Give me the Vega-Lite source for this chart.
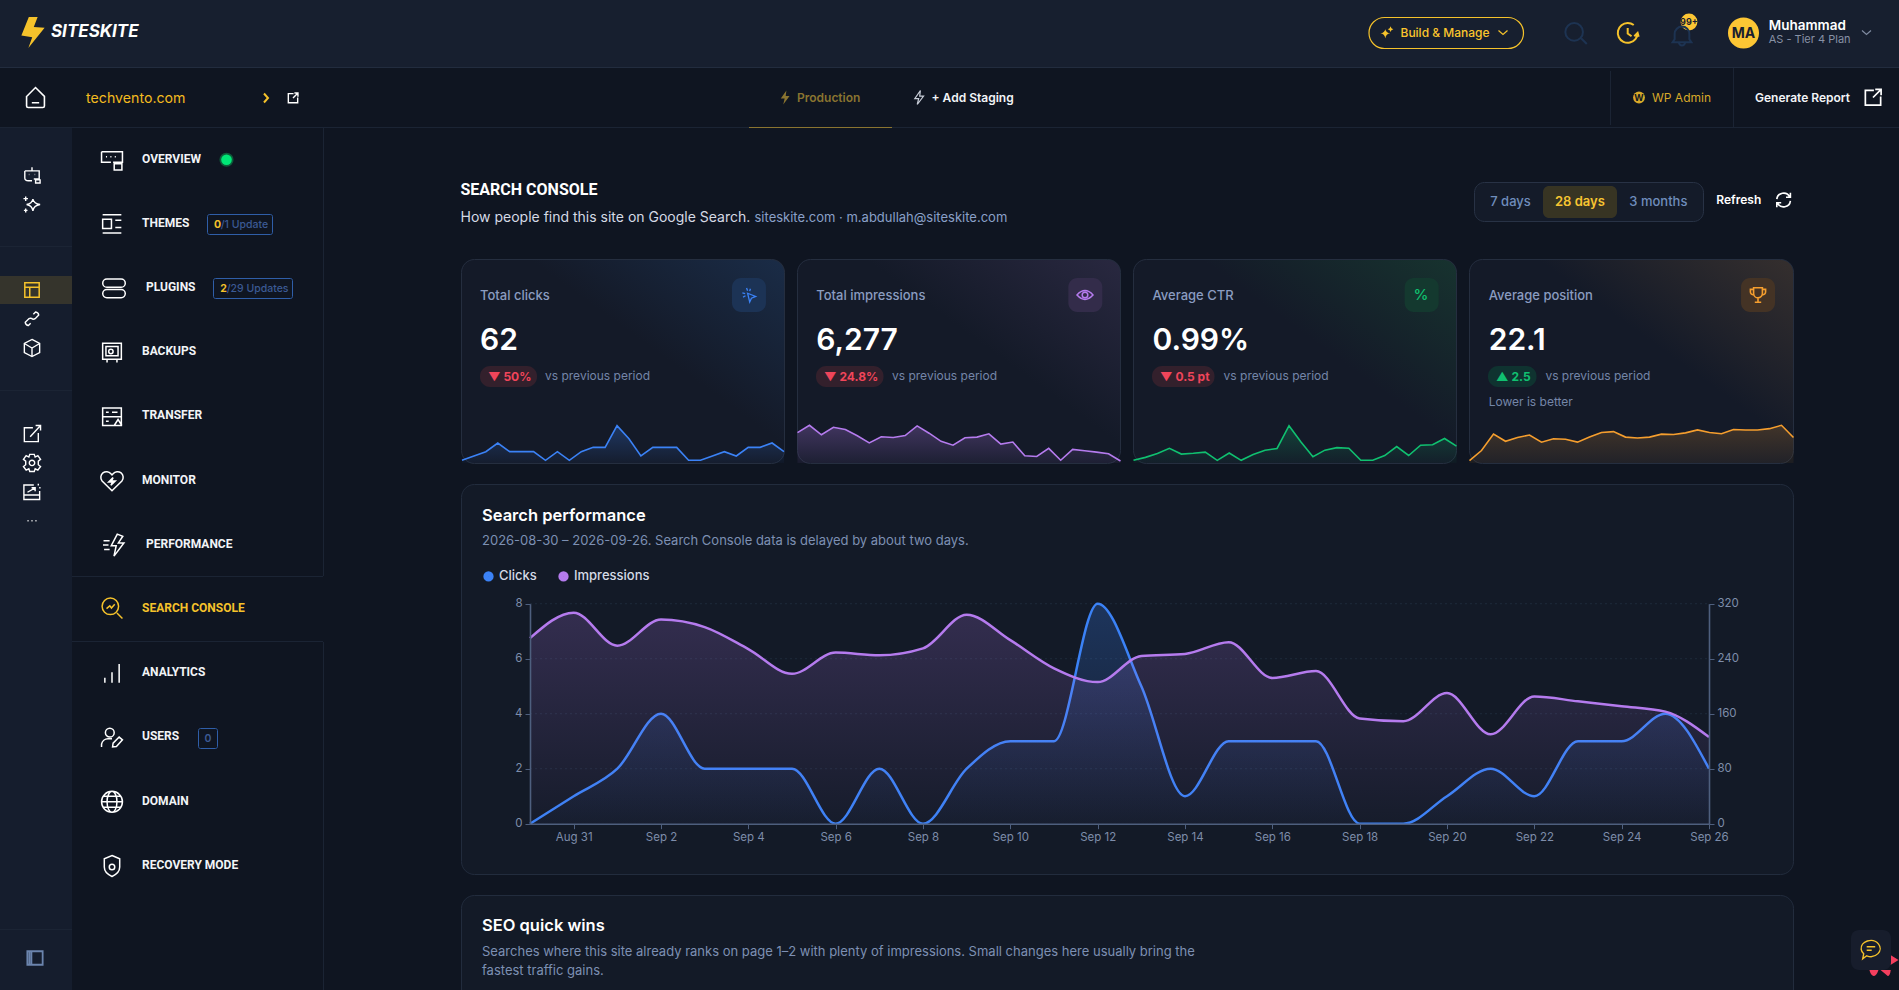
{"$schema":"https://vega.github.io/schema/vega-lite/v6.json","width":1899,"height":990,"autosize":"none","padding":0,"background":"#0f1521","config":{"view":{"stroke":null},"font":"Inter","scale":{"pointPadding":0},"text":{"font":"Inter","align":"left","baseline":"middle"},"axis":{"grid":false,"title":null,"domainColor":"#4e5f7e","domainWidth":1.6,"tickColor":"#4e5f7e","tickSize":5,"labelColor":"#7e8daa","labelFont":"Inter","labelFontSize":11.5,"labelOverlap":false,"labelBound":false,"labelFlush":false}},"resolve":{"scale":{"x":"independent","y":"independent","shape":"independent"},"axis":{"x":"independent","y":"independent"}},"datasets":{"daily":[
{"date":"2026-08-30","clicks":0,"impressions":270,"ctr":0,"position":16.3},
{"date":"2026-08-31","clicks":1,"impressions":307,"ctr":0.33,"position":18.7},
{"date":"2026-09-01","clicks":2,"impressions":259,"ctr":0.77,"position":22.6},
{"date":"2026-09-02","clicks":4,"impressions":297,"ctr":1.35,"position":20.9},
{"date":"2026-09-03","clicks":2,"impressions":286,"ctr":0.7,"position":21.8},
{"date":"2026-09-04","clicks":2,"impressions":254,"ctr":0.79,"position":22.4},
{"date":"2026-09-05","clicks":2,"impressions":218,"ctr":0.92,"position":20.7},
{"date":"2026-09-06","clicks":0,"impressions":249,"ctr":0,"position":21.5},
{"date":"2026-09-07","clicks":2,"impressions":245,"ctr":0.82,"position":21.4},
{"date":"2026-09-08","clicks":0,"impressions":255,"ctr":0,"position":20.7},
{"date":"2026-09-09","clicks":2,"impressions":304,"ctr":0.66,"position":21.9},
{"date":"2026-09-10","clicks":3,"impressions":267,"ctr":1.12,"position":23.0},
{"date":"2026-09-11","clicks":3,"impressions":226,"ctr":1.33,"position":23.2},
{"date":"2026-09-12","clicks":8,"impressions":206,"ctr":3.88,"position":21.9},
{"date":"2026-09-13","clicks":5,"impressions":244,"ctr":2.05,"position":21.7},
{"date":"2026-09-14","clicks":1,"impressions":247,"ctr":0.4,"position":21.9},
{"date":"2026-09-15","clicks":3,"impressions":264,"ctr":1.14,"position":22.6},
{"date":"2026-09-16","clicks":3,"impressions":212,"ctr":1.42,"position":22.5},
{"date":"2026-09-17","clicks":3,"impressions":222,"ctr":1.35,"position":22.9},
{"date":"2026-09-18","clicks":0,"impressions":153,"ctr":0,"position":23.6},
{"date":"2026-09-19","clicks":0,"impressions":149,"ctr":0,"position":23.0},
{"date":"2026-09-20","clicks":1,"impressions":190,"ctr":0.53,"position":22.7},
{"date":"2026-09-21","clicks":2,"impressions":130,"ctr":1.54,"position":23.7},
{"date":"2026-09-22","clicks":1,"impressions":185,"ctr":0.54,"position":23.6},
{"date":"2026-09-23","clicks":3,"impressions":178,"ctr":1.69,"position":23.6},
{"date":"2026-09-24","clicks":3,"impressions":171,"ctr":1.75,"position":23.9},
{"date":"2026-09-25","clicks":4,"impressions":163,"ctr":2.45,"position":24.7},
{"date":"2026-09-26","clicks":2,"impressions":126,"ctr":1.59,"position":21.8}
]},"layer":[
{"data":{"values":[{"p":"header"}]},"mark":{"type":"rect","color":"#171f2f"},"encoding":{"x":{"datum":0,"axis":null,"scale":{"domain":[0,1],"range":[0,1899]}},"x2":{"datum":1},"y":{"datum":0,"axis":null,"scale":{"domain":[0,1],"range":[0,67]}},"y2":{"datum":1}}},
{"data":{"values":[{"p":"rail"}]},"mark":{"type":"rect","color":"#151d2d"},"encoding":{"x":{"datum":0,"axis":null,"scale":{"domain":[0,1],"range":[0,72]}},"x2":{"datum":1},"y":{"datum":0,"axis":null,"scale":{"domain":[0,1],"range":[127,990]}},"y2":{"datum":1}}},
{"data":{"values":[{"p":"rail selected"}]},"mark":{"type":"rect","color":"#35342c"},"encoding":{"x":{"datum":0,"axis":null,"scale":{"domain":[0,1],"range":[0,72]}},"x2":{"datum":1},"y":{"datum":0,"axis":null,"scale":{"domain":[0,1],"range":[276,304]}},"y2":{"datum":1}}},
{"data":{"values":[{"p":"header line"}]},"mark":{"type":"rule","color":"#222c3e"},"encoding":{"x":{"datum":0,"axis":null,"scale":{"domain":[0,1],"range":[0,1899]}},"x2":{"datum":1},"y":{"field":"p","type":"nominal","axis":null,"scale":{"type":"point","range":[67.5,67.5]}}}},
{"data":{"values":[{"p":"bar line"}]},"mark":{"type":"rule","color":"#1b2434"},"encoding":{"x":{"datum":0,"axis":null,"scale":{"domain":[0,1],"range":[0,1899]}},"x2":{"datum":1},"y":{"field":"p","type":"nominal","axis":null,"scale":{"type":"point","range":[127.5,127.5]}}}},
{"data":{"values":[{"p":"tab"}]},"mark":{"type":"rule","color":"#8a7430","strokeWidth":1.2},"encoding":{"x":{"datum":0,"axis":null,"scale":{"domain":[0,1],"range":[749,892]}},"x2":{"datum":1},"y":{"field":"p","type":"nominal","axis":null,"scale":{"type":"point","range":[127.5,127.5]}}}},
{"data":{"values":[{"p":"a"},{"p":"b"}]},"mark":{"type":"rule","color":"#1b2434"},"encoding":{"x":{"datum":0,"axis":null,"scale":{"domain":[0,1],"range":[72,323]}},"x2":{"datum":1},"y":{"field":"p","type":"nominal","axis":null,"sort":null,"scale":{"type":"point","padding":0,"range":[576.5,641.5]}}}},
{"data":{"values":[{"p":"a"},{"p":"b"}]},"mark":{"type":"rule","color":"#1b2434"},"encoding":{"x":{"datum":0,"axis":null,"scale":{"domain":[0,1],"range":[0,72]}},"x2":{"datum":1},"y":{"field":"p","type":"nominal","axis":null,"sort":null,"scale":{"type":"point","padding":0,"range":[246.5,390.5]}}}},
{"data":{"values":[{"p":"rail foot"}]},"mark":{"type":"rule","color":"#1b2434"},"encoding":{"x":{"datum":0,"axis":null,"scale":{"domain":[0,1],"range":[0,72]}},"x2":{"datum":1},"y":{"field":"p","type":"nominal","axis":null,"scale":{"type":"point","range":[929.5,929.5]}}}},
{"data":{"values":[{"p":"nav edge"}]},"mark":{"type":"rule","color":"#1b2434"},"encoding":{"x":{"field":"p","type":"nominal","axis":null,"scale":{"type":"point","range":[323.5,323.5]}},"y":{"datum":0,"axis":null,"scale":{"domain":[0,1],"range":[127,576]}},"y2":{"datum":1}}},
{"data":{"values":[{"p":"nav edge"}]},"mark":{"type":"rule","color":"#1b2434"},"encoding":{"x":{"field":"p","type":"nominal","axis":null,"scale":{"type":"point","range":[323.5,323.5]}},"y":{"datum":0,"axis":null,"scale":{"domain":[0,1],"range":[642,990]}},"y2":{"datum":1}}},
{"data":{"values":[{"p":"sep"}]},"mark":{"type":"rule","color":"#1b2434"},"encoding":{"x":{"field":"p","type":"nominal","axis":null,"scale":{"type":"point","range":[1610.5,1610.5]}},"y":{"datum":0,"axis":null,"scale":{"domain":[0,1],"range":[71,125]}},"y2":{"datum":1}}},
{"data":{"values":[{"p":"sep"}]},"mark":{"type":"rule","color":"#1b2434"},"encoding":{"x":{"field":"p","type":"nominal","axis":null,"scale":{"type":"point","range":[1733.5,1733.5]}},"y":{"datum":0,"axis":null,"scale":{"domain":[0,1],"range":[68,127]}},"y2":{"datum":1}}},

{"data":{"values":[{"p":"card clicks"}]},"mark":{"type":"rect","cornerRadius":13,"stroke":"#252e3f","strokeWidth":1,"fill":{"gradient":"linear","x1":1,"y1":0,"x2":0.25,"y2":0.65,"stops":[{"offset":0,"color":"#1a2c47"},{"offset":0.6,"color":"#141a28"},{"offset":1,"color":"#141a28"}]}},"encoding":{"x":{"datum":0,"axis":null,"scale":{"domain":[0,1],"range":[461.5,784.5]}},"x2":{"datum":1},"y":{"datum":0,"axis":null,"scale":{"domain":[0,1],"range":[259.5,463.5]}},"y2":{"datum":1}}},
{"data":{"values":[{"p":"card impressions"}]},"mark":{"type":"rect","cornerRadius":13,"stroke":"#252e3f","strokeWidth":1,"fill":{"gradient":"linear","x1":1,"y1":0,"x2":0.25,"y2":0.65,"stops":[{"offset":0,"color":"#292840"},{"offset":0.6,"color":"#141a28"},{"offset":1,"color":"#141a28"}]}},"encoding":{"x":{"datum":0,"axis":null,"scale":{"domain":[0,1],"range":[797.5,1120.5]}},"x2":{"datum":1},"y":{"datum":0,"axis":null,"scale":{"domain":[0,1],"range":[259.5,463.5]}},"y2":{"datum":1}}},
{"data":{"values":[{"p":"card ctr"}]},"mark":{"type":"rect","cornerRadius":13,"stroke":"#252e3f","strokeWidth":1,"fill":{"gradient":"linear","x1":1,"y1":0,"x2":0.25,"y2":0.65,"stops":[{"offset":0,"color":"#17332f"},{"offset":0.6,"color":"#141a28"},{"offset":1,"color":"#141a28"}]}},"encoding":{"x":{"datum":0,"axis":null,"scale":{"domain":[0,1],"range":[1133.5,1456.5]}},"x2":{"datum":1},"y":{"datum":0,"axis":null,"scale":{"domain":[0,1],"range":[259.5,463.5]}},"y2":{"datum":1}}},
{"data":{"values":[{"p":"card position"}]},"mark":{"type":"rect","cornerRadius":13,"stroke":"#252e3f","strokeWidth":1,"fill":{"gradient":"linear","x1":1,"y1":0,"x2":0.25,"y2":0.65,"stops":[{"offset":0,"color":"#352f2e"},{"offset":0.6,"color":"#141a28"},{"offset":1,"color":"#141a28"}]}},"encoding":{"x":{"datum":0,"axis":null,"scale":{"domain":[0,1],"range":[1469.5,1793.5]}},"x2":{"datum":1},"y":{"datum":0,"axis":null,"scale":{"domain":[0,1],"range":[259.5,463.5]}},"y2":{"datum":1}}},
{"data":{"values":[{"p":"card main"}]},"mark":{"type":"rect","cornerRadius":13,"stroke":"#222c3d","strokeWidth":1,"color":"#131a27"},"encoding":{"x":{"datum":0,"axis":null,"scale":{"domain":[0,1],"range":[461.5,1793.5]}},"x2":{"datum":1},"y":{"datum":0,"axis":null,"scale":{"domain":[0,1],"range":[484.5,874.5]}},"y2":{"datum":1}}},
{"data":{"values":[{"p":"card seo"}]},"mark":{"type":"rect","cornerRadius":13,"stroke":"#222c3d","strokeWidth":1,"color":"#131a27","clip":true},"encoding":{"x":{"datum":0,"axis":null,"scale":{"domain":[0,1],"range":[461.5,1793.5]}},"x2":{"datum":1},"y":{"datum":0,"axis":null,"scale":{"domain":[0,1],"range":[895.5,1050]}},"y2":{"datum":1}}},

{"data":{"name":"daily"},"encoding":{"x":{"field":"date","type":"temporal","axis":null,"scale":{"type":"utc","nice":false,"range":[462,784]}},"y":{"field":"clicks","type":"quantitative","axis":null,"scale":{"domain":[-0.62,8],"nice":false,"zero":false,"range":[463,425.7]}}},"layer":[{"mark":{"type":"area","fill":{"gradient":"linear","x1":0,"y1":0,"x2":0,"y2":1,"stops":[{"offset":0,"color":"rgba(59,130,246,0.28)"},{"offset":1,"color":"rgba(59,130,246,0.03)"}]}},"encoding":{"y2":{"datum":-0.62}}},{"mark":{"type":"line","color":"#3b82f6","strokeWidth":1.6}}]},
{"data":{"name":"daily"},"encoding":{"x":{"field":"date","type":"temporal","axis":null,"scale":{"type":"utc","nice":false,"range":[797.5,1120.5]}},"y":{"field":"impressions","type":"quantitative","axis":null,"scale":{"domain":[116,307],"nice":false,"zero":false,"range":[463,425.3]}}},"layer":[{"mark":{"type":"area","fill":{"gradient":"linear","x1":0,"y1":0,"x2":0,"y2":1,"stops":[{"offset":0,"color":"rgba(181,123,238,0.28)"},{"offset":1,"color":"rgba(181,123,238,0.06)"}]}},"encoding":{"y2":{"datum":116}}},{"mark":{"type":"line","color":"#b57bee","strokeWidth":1.6}}]},
{"data":{"name":"daily"},"encoding":{"x":{"field":"date","type":"temporal","axis":null,"scale":{"type":"utc","nice":false,"range":[1133.5,1456.5]}},"y":{"field":"ctr","type":"quantitative","axis":null,"scale":{"domain":[-0.3,3.88],"nice":false,"zero":false,"range":[463,425.7]}}},"layer":[{"mark":{"type":"area","fill":{"gradient":"linear","x1":0,"y1":0,"x2":0,"y2":1,"stops":[{"offset":0,"color":"rgba(16,192,112,0.25)"},{"offset":1,"color":"rgba(16,192,112,0.03)"}]}},"encoding":{"y2":{"datum":-0.3}}},{"mark":{"type":"line","color":"#10c070","strokeWidth":1.6}}]},
{"data":{"name":"daily"},"encoding":{"x":{"field":"date","type":"temporal","axis":null,"scale":{"type":"utc","nice":false,"range":[1469.5,1793.5]}},"y":{"field":"position","type":"quantitative","axis":null,"scale":{"domain":[15.75,24.7],"nice":false,"zero":false,"range":[463,425.3]}}},"layer":[{"mark":{"type":"area","fill":{"gradient":"linear","x1":0,"y1":0,"x2":0,"y2":1,"stops":[{"offset":0,"color":"rgba(245,158,46,0.2)"},{"offset":1,"color":"rgba(245,158,46,0.06)"}]}},"encoding":{"y2":{"datum":15.75}}},{"mark":{"type":"line","color":"#f59e2e","strokeWidth":1.6}}]},

{"data":{"values":[{"v":2},{"v":4},{"v":6},{"v":8}]},"mark":{"type":"rule","color":"#1e2b3a","strokeDash":[2,3]},"encoding":{"x":{"datum":0,"axis":null,"scale":{"domain":[0,1],"range":[530,1709]}},"x2":{"datum":1},"y":{"field":"v","type":"quantitative","axis":null,"scale":{"domain":[0,8],"nice":false,"range":[823.7,603.7]}}}},
{"data":{"name":"daily"},"encoding":{"x":{"field":"date","type":"temporal","scale":{"type":"utc","nice":false,"range":[530,1709]},"axis":{"orient":"bottom","offset":-166.3,"zindex":1,"format":"%b %-d","labelPadding":3,"values":["2026-08-31","2026-09-02","2026-09-04","2026-09-06","2026-09-08","2026-09-10","2026-09-12","2026-09-14","2026-09-16","2026-09-18","2026-09-20","2026-09-22","2026-09-24","2026-09-26"]}},"y":{"field":"clicks","type":"quantitative","scale":{"domain":[0,8],"nice":false,"range":[823.7,603.7]},"axis":{"orient":"left","offset":-530,"zindex":1,"values":[0,2,4,6,8],"labelPadding":3}}},"layer":[{"mark":{"type":"area","interpolate":"monotone","fill":{"gradient":"linear","x1":0,"y1":0,"x2":0,"y2":1,"stops":[{"offset":0,"color":"rgba(59,130,246,0.26)"},{"offset":1,"color":"rgba(59,130,246,0.02)"}]}}},{"mark":{"type":"line","interpolate":"monotone","strokeWidth":2.5},"encoding":{"color":{"datum":"Clicks","type":"nominal","scale":{"domain":["Clicks","Impressions"],"range":["#3b82f6","#b57bee"]},"legend":{"orient":"none","legendX":482,"legendY":569.5,"direction":"horizontal","title":null,"symbolType":"circle","symbolSize":28,"symbolStrokeWidth":5,"labelColor":"#d5dbe6","labelFont":"Inter","labelFontSize":13,"labelFontWeight":500,"columnPadding":13,"zindex":1}}}}]},
{"data":{"name":"daily"},"encoding":{"x":{"field":"date","type":"temporal","axis":null,"scale":{"type":"utc","nice":false,"range":[530,1709]}},"y":{"field":"impressions","type":"quantitative","scale":{"domain":[0,320],"nice":false,"range":[823.7,603.7]},"axis":{"orient":"right","offset":-190,"zindex":1,"values":[0,80,160,240,320],"labelPadding":3}}},"layer":[{"mark":{"type":"area","interpolate":"monotone","fill":{"gradient":"linear","x1":0,"y1":0,"x2":0,"y2":1,"stops":[{"offset":0,"color":"rgba(181,123,238,0.2)"},{"offset":1,"color":"rgba(181,123,238,0.02)"}]}}},{"mark":{"type":"line","interpolate":"monotone","strokeWidth":2.5},"encoding":{"color":{"datum":"Impressions","type":"nominal"}}}]},

{"data":{"values":[{"p":"pill"}]},"mark":{"type":"rect","cornerRadius":15.5,"stroke":"#f5c22b","strokeWidth":1.2,"fill":"#171f2f"},"encoding":{"x":{"datum":0,"axis":null,"scale":{"domain":[0,1],"range":[1369,1523.5]}},"x2":{"datum":1},"y":{"datum":0,"axis":null,"scale":{"domain":[0,1],"range":[17.5,48.5]}},"y2":{"datum":1}}},
{"data":{"values":[{"p":"range"}]},"mark":{"type":"rect","cornerRadius":10,"stroke":"#283245","fill":"#141b29"},"encoding":{"x":{"datum":0,"axis":null,"scale":{"domain":[0,1],"range":[1474.5,1703.5]}},"x2":{"datum":1},"y":{"datum":0,"axis":null,"scale":{"domain":[0,1],"range":[182.5,221.5]}},"y2":{"datum":1}}},
{"data":{"values":[{"p":"range on"}]},"mark":{"type":"rect","cornerRadius":6,"color":"#373423"},"encoding":{"x":{"datum":0,"axis":null,"scale":{"domain":[0,1],"range":[1543,1617]}},"x2":{"datum":1},"y":{"datum":0,"axis":null,"scale":{"domain":[0,1],"range":[186,218]}},"y2":{"datum":1}}},
{"data":{"values":[{"p":"a"}]},"mark":{"type":"rect","cornerRadius":10,"color":"#33202c"},"encoding":{"x":{"datum":0,"axis":null,"scale":{"domain":[0,1],"range":[480,537]}},"x2":{"datum":1},"y":{"datum":0,"axis":null,"scale":{"domain":[0,1],"range":[366,387]}},"y2":{"datum":1}}},
{"data":{"values":[{"p":"a"}]},"mark":{"type":"rect","cornerRadius":10,"color":"#33202c"},"encoding":{"x":{"datum":0,"axis":null,"scale":{"domain":[0,1],"range":[816,883.5]}},"x2":{"datum":1},"y":{"datum":0,"axis":null,"scale":{"domain":[0,1],"range":[366,387]}},"y2":{"datum":1}}},
{"data":{"values":[{"p":"a"}]},"mark":{"type":"rect","cornerRadius":10,"color":"#33202c"},"encoding":{"x":{"datum":0,"axis":null,"scale":{"domain":[0,1],"range":[1152,1214.5]}},"x2":{"datum":1},"y":{"datum":0,"axis":null,"scale":{"domain":[0,1],"range":[366,387]}},"y2":{"datum":1}}},
{"data":{"values":[{"p":"a"}]},"mark":{"type":"rect","cornerRadius":10,"color":"#0f3330"},"encoding":{"x":{"datum":0,"axis":null,"scale":{"domain":[0,1],"range":[1488,1536.5]}},"x2":{"datum":1},"y":{"datum":0,"axis":null,"scale":{"domain":[0,1],"range":[366,387]}},"y2":{"datum":1}}},
{"data":{"values":[{"c":"clicks"},{"c":"impressions"},{"c":"ctr"},{"c":"position"}]},"mark":{"type":"rect","cornerRadius":9},"encoding":{"x":{"field":"c","type":"nominal","axis":null,"sort":null,"scale":{"type":"band","range":[732,1775],"paddingInner":0.899,"paddingOuter":0}},"y":{"datum":0,"axis":null,"scale":{"domain":[0,1],"range":[278,312]}},"y2":{"datum":1},"fill":{"field":"c","type":"nominal","legend":null,"sort":null,"scale":{"range":["#1c3355","#332c4a","#14392f","#443325"]}}}},
{"data":{"values":[{"p":"a"}]},"mark":{"type":"rect","color":"rgba(0,0,0,0)","stroke":"#2f5ea8","cornerRadius":2},"encoding":{"x":{"datum":0,"axis":null,"scale":{"domain":[0,1],"range":[207.5,272.5]}},"x2":{"datum":1},"y":{"datum":0,"axis":null,"scale":{"domain":[0,1],"range":[214.5,234.5]}},"y2":{"datum":1}}},
{"data":{"values":[{"p":"a"}]},"mark":{"type":"rect","color":"rgba(0,0,0,0)","stroke":"#2f5ea8","cornerRadius":2},"encoding":{"x":{"datum":0,"axis":null,"scale":{"domain":[0,1],"range":[213.5,292.5]}},"x2":{"datum":1},"y":{"datum":0,"axis":null,"scale":{"domain":[0,1],"range":[278.5,298.5]}},"y2":{"datum":1}}},
{"data":{"values":[{"p":"a"}]},"mark":{"type":"rect","color":"rgba(0,0,0,0)","stroke":"#2f5ea8","cornerRadius":2},"encoding":{"x":{"datum":0,"axis":null,"scale":{"domain":[0,1],"range":[198.5,217.5]}},"x2":{"datum":1},"y":{"datum":0,"axis":null,"scale":{"domain":[0,1],"range":[728.5,748.5]}},"y2":{"datum":1}}},

{"data":{"values":[{"t":"chat"}]},"mark":{"type":"point","filled":true,"color":"#f43f5e","opacity":1,"size":900,"shape":"M 0.43 -0.73 L 0.97 -0.4 L 0.43 -0.07 Z M -0.97 0.27 H -0.37 Q -0.5 0.67 -0.7 0.67 Q -0.9 0.6 -0.97 0.27 Z M -0.23 0.27 H 0.45 Q 0.4 0.67 0.25 0.67 Z"},"encoding":{"x":{"field":"t","type":"nominal","axis":null,"scale":{"range":[1884,1884]}},"y":{"field":"t","type":"nominal","axis":null,"scale":{"range":[966,966]}}}},
{"data":{"values":[{"p":"chat"}]},"mark":{"type":"rect","cornerRadius":8,"color":"#171d2c"},"encoding":{"x":{"datum":0,"axis":null,"scale":{"domain":[0,1],"range":[1851,1891]}},"x2":{"datum":1},"y":{"datum":0,"axis":null,"scale":{"domain":[0,1],"range":[930,970]}},"y2":{"datum":1}}},

{"data":{"values":[{"i":"green halo"}]},"mark":{"type":"circle","color":"#0d5c3a","opacity":1,"size":200},"encoding":{"x":{"field":"i","type":"nominal","axis":null,"scale":{"range":[226.5,226.5]}},"y":{"field":"i","type":"nominal","axis":null,"scale":{"range":[159.7,159.7]}}}},
{"data":{"values":[{"i":"green dot"}]},"mark":{"type":"circle","color":"#00e676","opacity":1,"size":113},"encoding":{"x":{"field":"i","type":"nominal","axis":null,"scale":{"range":[226.5,226.5]}},"y":{"field":"i","type":"nominal","axis":null,"scale":{"range":[159.7,159.7]}}}},
{"data":{"values":[{"i":"bell badge"}]},"mark":{"type":"circle","color":"#fdc634","opacity":1,"size":283},"encoding":{"x":{"field":"i","type":"nominal","axis":null,"scale":{"range":[1689,1689]}},"y":{"field":"i","type":"nominal","axis":null,"scale":{"range":[22,22]}}}},
{"data":{"values":[{"i":"avatar"}]},"mark":{"type":"circle","color":"#fdc634","opacity":1,"size":962},"encoding":{"x":{"field":"i","type":"nominal","axis":null,"scale":{"range":[1743.5,1743.5]}},"y":{"field":"i","type":"nominal","axis":null,"scale":{"range":[33,33]}}}},
{"data":{"values":[{"i":"wp"}]},"mark":{"type":"circle","color":"#d8a929","opacity":1,"size":140},"encoding":{"x":{"field":"i","type":"nominal","axis":null,"scale":{"range":[1639,1639]}},"y":{"field":"i","type":"nominal","axis":null,"scale":{"range":[97.5,97.5]}}}},

{"data":{"values":[{"i":"logo"}]},"mark":{"type":"point","filled":true,"color":"#f5c22b","opacity":1,"size":961,"shape":"M -0.27 -1 L 0.3 -1 L 0.05 -0.35 L 0.75 -0.3 L -0.3 1 L -0.05 0.3 L -0.75 0.2 Z"},"encoding":{"x":{"field":"i","type":"nominal","axis":null,"scale":{"range":[33,33]}},"y":{"field":"i","type":"nominal","axis":null,"scale":{"range":[32.5,32.5]}}}},
{"data":{"values":[{"i":"home"}]},"mark":{"type":"point","filled":false,"color":"#ffffff","opacity":1,"strokeWidth":1.6,"size":441,"shape":"M -0.85 -0.1 L 0 -0.95 L 0.85 -0.1 V 0.8 Q 0.85 0.95 0.7 0.95 H -0.7 Q -0.85 0.95 -0.85 0.8 Z M -0.35 0.5 H 0.35"},"encoding":{"x":{"field":"i","type":"nominal","axis":null,"scale":{"range":[35.5,35.5]}},"y":{"field":"i","type":"nominal","axis":null,"scale":{"range":[97.5,97.5]}}}},
{"data":{"values":[{"i":"chev"}]},"mark":{"type":"point","filled":false,"color":"#f5c22b","opacity":1,"strokeWidth":2,"size":100,"shape":"M -0.4 -0.9 L 0.4 0 L -0.4 0.9"},"encoding":{"x":{"field":"i","type":"nominal","axis":null,"scale":{"range":[266,266]}},"y":{"field":"i","type":"nominal","axis":null,"scale":{"range":[98,98]}}}},
{"data":{"values":[{"i":"ext"}]},"mark":{"type":"point","filled":false,"color":"#ffffff","opacity":1,"strokeWidth":1.4,"size":121,"shape":"M 0.1 -0.8 H -0.85 V 0.85 H 0.85 V -0.1 M 0.25 -0.9 H 0.9 V -0.25 M 0.9 -0.9 L 0 0"},"encoding":{"x":{"field":"i","type":"nominal","axis":null,"scale":{"range":[293,293]}},"y":{"field":"i","type":"nominal","axis":null,"scale":{"range":[98,98]}}}},
{"data":{"values":[{"i":"report"}]},"mark":{"type":"point","filled":false,"color":"#ffffff","opacity":1,"strokeWidth":1.7,"size":324,"shape":"M 0.1 -0.8 H -0.85 V 0.85 H 0.85 V -0.1 M 0.25 -0.9 H 0.9 V -0.25 M 0.9 -0.9 L 0 0"},"encoding":{"x":{"field":"i","type":"nominal","axis":null,"scale":{"range":[1873,1873]}},"y":{"field":"i","type":"nominal","axis":null,"scale":{"range":[97.5,97.5]}}}},
{"data":{"values":[{"i":"spark"}]},"mark":{"type":"point","filled":true,"color":"#f5c22b","opacity":1,"size":196,"shape":"M -0.2 -0.55 Q -0.1 -0.05 0.5 0.05 Q -0.1 0.15 -0.2 0.75 Q -0.3 0.15 -0.9 0.05 Q -0.3 -0.05 -0.2 -0.55 Z M 0.55 -0.95 Q 0.6 -0.6 0.95 -0.55 Q 0.6 -0.5 0.55 -0.15 Q 0.5 -0.5 0.15 -0.55 Q 0.5 -0.6 0.55 -0.95 Z"},"encoding":{"x":{"field":"i","type":"nominal","axis":null,"scale":{"range":[1386.7,1386.7]}},"y":{"field":"i","type":"nominal","axis":null,"scale":{"range":[33,33]}}}},
{"data":{"values":[{"i":"down"}]},"mark":{"type":"point","filled":false,"color":"#f5c22b","opacity":1,"strokeWidth":1.2,"size":100,"shape":"M -0.9 -0.4 L 0 0.4 L 0.9 -0.4"},"encoding":{"x":{"field":"i","type":"nominal","axis":null,"scale":{"range":[1503,1503]}},"y":{"field":"i","type":"nominal","axis":null,"scale":{"range":[32.5,32.5]}}}},
{"data":{"values":[{"i":"down"}]},"mark":{"type":"point","filled":false,"color":"#7f8aa0","opacity":1,"strokeWidth":1.2,"size":100,"shape":"M -0.9 -0.4 L 0 0.4 L 0.9 -0.4"},"encoding":{"x":{"field":"i","type":"nominal","axis":null,"scale":{"range":[1866.5,1866.5]}},"y":{"field":"i","type":"nominal","axis":null,"scale":{"range":[32.5,32.5]}}}},
{"data":{"values":[{"i":"search"}]},"mark":{"type":"point","filled":false,"color":"#1d3352","opacity":1,"strokeWidth":2,"size":484,"shape":"M -0.95 -0.1 A 0.8 0.8 0 1 0 0.65 -0.1 A 0.8 0.8 0 1 0 -0.95 -0.1 Z M 0.5 0.5 L 1 1"},"encoding":{"x":{"field":"i","type":"nominal","axis":null,"scale":{"range":[1575.8,1575.8]}},"y":{"field":"i","type":"nominal","axis":null,"scale":{"range":[33,33]}}}},
{"data":{"values":[{"i":"clock"}]},"mark":{"type":"point","filled":false,"color":"#f5c22b","opacity":1,"strokeWidth":2,"size":484,"shape":"M 0.9 0 A 0.9 0.9 0 1 1 0.55 -0.72 M 0 -0.45 V 0.05 L 0.35 0.3 M 0.6 0.3 L 0.9 0 L 1 0.35"},"encoding":{"x":{"field":"i","type":"nominal","axis":null,"scale":{"range":[1627.7,1627.7]}},"y":{"field":"i","type":"nominal","axis":null,"scale":{"range":[33,33]}}}},
{"data":{"values":[{"i":"bell"}]},"mark":{"type":"point","filled":false,"color":"#1d3352","opacity":1,"strokeWidth":2,"size":441,"shape":"M -0.7 0.4 V -0.1 A 0.7 0.7 0 0 1 0.7 -0.1 V 0.4 L 0.9 0.7 H -0.9 L -0.7 0.4 Z M -0.3 0.7 A 0.3 0.3 0 0 0 0.3 0.7"},"encoding":{"x":{"field":"i","type":"nominal","axis":null,"scale":{"range":[1682,1682]}},"y":{"field":"i","type":"nominal","axis":null,"scale":{"range":[35,35]}}}},
{"data":{"values":[{"i":"prod"}]},"mark":{"type":"point","filled":true,"color":"#8a7430","opacity":1,"size":196,"shape":"M 0.2 -1 L -0.6 0.15 H -0.05 L -0.25 1 L 0.65 -0.2 H 0.1 Z"},"encoding":{"x":{"field":"i","type":"nominal","axis":null,"scale":{"range":[785,785]}},"y":{"field":"i","type":"nominal","axis":null,"scale":{"range":[97.5,97.5]}}}},
{"data":{"values":[{"i":"stag"}]},"mark":{"type":"point","filled":false,"color":"#c8cdd8","opacity":1,"strokeWidth":1.2,"size":196,"shape":"M 0.2 -1 L -0.6 0.15 H -0.05 L -0.25 1 L 0.65 -0.2 H 0.1 Z"},"encoding":{"x":{"field":"i","type":"nominal","axis":null,"scale":{"range":[919,919]}},"y":{"field":"i","type":"nominal","axis":null,"scale":{"range":[97.5,97.5]}}}},
{"data":{"values":[{"i":"refresh"}]},"mark":{"type":"point","filled":false,"color":"#ffffff","opacity":1,"strokeWidth":1.6,"size":256,"shape":"M -0.85 -0.1 A 0.85 0.85 0 0 1 0.75 -0.4 M 0.85 -0.9 V -0.35 H 0.3 M 0.85 0.1 A 0.85 0.85 0 0 1 -0.75 0.4 M -0.85 0.9 V 0.35 H -0.3"},"encoding":{"x":{"field":"i","type":"nominal","axis":null,"scale":{"range":[1783.6,1783.6]}},"y":{"field":"i","type":"nominal","axis":null,"scale":{"range":[200,200]}}}},
{"data":{"values":[{"i":"cursor"}]},"mark":{"type":"point","filled":false,"color":"#3b82f6","opacity":1,"strokeWidth":1.3,"size":196,"shape":"M -0.2 -0.25 L 0.95 0.2 L 0.35 0.45 L 0.1 1 Z M -0.35 -1 L -0.2 -0.6 M -0.95 -0.3 L -0.55 -0.2 M -0.85 0.3 L -0.5 0.1 M 0.2 -0.9 L 0.1 -0.55"},"encoding":{"x":{"field":"i","type":"nominal","axis":null,"scale":{"range":[749,749]}},"y":{"field":"i","type":"nominal","axis":null,"scale":{"range":[295,295]}}}},
{"data":{"values":[{"i":"eye"}]},"mark":{"type":"point","filled":false,"color":"#b57bee","opacity":1,"strokeWidth":1.5,"size":256,"shape":"M -1 0 Q 0 -1.1 1 0 Q 0 1.1 -1 0 Z M -0.35 0 A 0.35 0.35 0 1 0 0.35 0 A 0.35 0.35 0 1 0 -0.35 0 Z"},"encoding":{"x":{"field":"i","type":"nominal","axis":null,"scale":{"range":[1085,1085]}},"y":{"field":"i","type":"nominal","axis":null,"scale":{"range":[295,295]}}}},
{"data":{"values":[{"i":"trophy"}]},"mark":{"type":"point","filled":false,"color":"#f59e2e","opacity":1,"strokeWidth":1.6,"size":256,"shape":"M -0.55 -0.9 H 0.55 V -0.2 A 0.55 0.55 0 0 1 -0.55 -0.2 Z M -0.55 -0.7 H -0.95 V -0.4 Q -0.95 -0.05 -0.5 0 M 0.55 -0.7 H 0.95 V -0.4 Q 0.95 -0.05 0.5 0 M 0 0.35 V 0.8 M -0.4 0.9 H 0.4"},"encoding":{"x":{"field":"i","type":"nominal","axis":null,"scale":{"range":[1758,1758]}},"y":{"field":"i","type":"nominal","axis":null,"scale":{"range":[295,295]}}}},
{"data":{"values":[{"i":"chat"}]},"mark":{"type":"point","filled":false,"color":"#f5c22b","opacity":1,"strokeWidth":1.4,"size":400,"shape":"M -0.95 0 A 0.95 0.8 0 1 1 -0.4 0.65 L -0.8 0.95 L -0.7 0.45 A 0.95 0.8 0 0 1 -0.95 0 Z M -0.4 -0.25 H 0.45 M -0.4 0.1 H 0.1"},"encoding":{"x":{"field":"i","type":"nominal","axis":null,"scale":{"range":[1870.7,1870.7]}},"y":{"field":"i","type":"nominal","axis":null,"scale":{"range":[949.3,949.3]}}}},

{"data":{"values":[{"i":"bot"},{"i":"sparkle"}]},"mark":{"type":"point","filled":false,"color":"#ffffff","opacity":1,"strokeWidth":1.4,"size":324},"encoding":{"x":{"field":"i","type":"nominal","axis":null,"scale":{"range":[32,32]}},"y":{"field":"i","type":"nominal","axis":null,"sort":null,"scale":{"range":[174.5,204.5]}},"shape":{"field":"i","type":"nominal","legend":null,"scale":{"domain":["bot","sparkle"],"range":["M -0.8 -0.4 H 0.8 V 0.5 H 0.2 M -0.8 -0.4 V 0.4 Q -0.8 0.7 -0.4 0.7 H 0 M 0 -0.4 V -0.8 M -0.35 0 H -0.3 M 0.3 0 H 0.35 M 0.4 0.6 H 0.9 V 0.95 H 0.4 Z","M 0.1 -0.6 Q 0.2 -0.1 0.9 0 Q 0.2 0.1 0.1 0.7 Q 0 0.1 -0.6 0 Q 0 -0.1 0.1 -0.6 Z M -0.7 -0.9 V -0.4 M -0.95 -0.65 H -0.45 M -0.7 0.45 V 0.9 M -0.9 0.65 H -0.5"]}}}},
{"data":{"values":[{"i":"layout"}]},"mark":{"type":"point","filled":false,"color":"#f5c22b","opacity":1,"strokeWidth":1.5,"size":324,"shape":"M -0.8 -0.8 H 0.8 V 0.8 H -0.8 Z M -0.8 -0.3 H 0.8 M -0.25 -0.3 V 0.8"},"encoding":{"x":{"field":"i","type":"nominal","axis":null,"scale":{"range":[32,32]}},"y":{"field":"i","type":"nominal","axis":null,"scale":{"range":[290,290]}}}},
{"data":{"values":[{"i":"link"},{"i":"box"}]},"mark":{"type":"point","filled":false,"color":"#ffffff","opacity":1,"strokeWidth":1.4,"size":324},"encoding":{"x":{"field":"i","type":"nominal","axis":null,"scale":{"range":[32,32]}},"y":{"field":"i","type":"nominal","axis":null,"sort":null,"scale":{"range":[318.7,348]}},"shape":{"field":"i","type":"nominal","legend":null,"scale":{"domain":["link","box"],"range":["M -0.15 0.5 L -0.4 0.75 A 0.4 0.4 0 0 1 -0.75 0.4 L -0.35 0 A 0.4 0.4 0 0 1 0.05 0 M 0.15 -0.5 L 0.4 -0.75 A 0.4 0.4 0 0 1 0.75 -0.4 L 0.35 0 A 0.4 0.4 0 0 1 -0.05 0","M 0 -0.95 L 0.85 -0.5 V 0.5 L 0 0.95 L -0.85 0.5 V -0.5 Z M -0.85 -0.5 L 0 0 L 0.85 -0.5 M 0 0 V 0.95"]}}}},
{"data":{"values":[{"i":"edit"},{"i":"gear"},{"i":"image"},{"i":"dots"}]},"mark":{"type":"point","filled":false,"color":"#ffffff","opacity":1,"strokeWidth":1.4,"size":324},"encoding":{"x":{"field":"i","type":"nominal","axis":null,"scale":{"range":[32,32]}},"y":{"field":"i","type":"nominal","axis":null,"sort":null,"scale":{"range":[434,520.7]}},"shape":{"field":"i","type":"nominal","legend":null,"scale":{"domain":["edit","gear","image","dots"],"range":["M 0.1 -0.7 H -0.85 V 0.85 H 0.7 V -0.1 M -0.2 0.3 L 0.95 -0.95 M 0.4 -0.95 H 0.95 V -0.4","M -0.25 -0.95 H 0.25 L 0.35 -0.65 L 0.65 -0.8 L 0.95 -0.4 L 0.7 -0.2 V 0.2 L 0.95 0.4 L 0.65 0.8 L 0.35 0.65 L 0.25 0.95 H -0.25 L -0.35 0.65 L -0.65 0.8 L -0.95 0.4 L -0.7 0.2 V -0.2 L -0.95 -0.4 L -0.65 -0.8 L -0.35 -0.65 Z M -0.3 0 A 0.3 0.3 0 1 0 0.3 0 A 0.3 0.3 0 1 0 -0.3 0 Z","M 0.2 -0.75 H -0.9 V 0.85 H 0.85 V -0.1 M -0.9 0.35 H 0.85 M -0.5 0.05 L 0.3 -0.4 M -0.05 -0.45 H 0.35 V -0.05 M 0.7 -0.9 V -0.7 M 0.8 -0.45 H 0.95","M -0.5 0 H -0.38 M -0.06 0 H 0.06 M 0.38 0 H 0.5"]}}}},
{"data":{"values":[{"i":"panel"}]},"mark":{"type":"point","filled":false,"color":"#6b84ad","opacity":1,"strokeWidth":1.8,"size":324,"shape":"M -0.85 -0.75 H 0.85 V 0.75 H -0.85 Z M -0.4 -0.75 V 0.75 M -0.62 -0.75 V 0.75"},"encoding":{"x":{"field":"i","type":"nominal","axis":null,"scale":{"range":[35,35]}},"y":{"field":"i","type":"nominal","axis":null,"scale":{"range":[958,958]}}}},

{"data":{"values":[{"i":"OVERVIEW"},{"i":"THEMES"},{"i":"BACKUPS"},{"i":"TRANSFER"},{"i":"MONITOR"},{"i":"ANALYTICS"},{"i":"USERS"},{"i":"DOMAIN"},{"i":"RECOVERY MODE"}]},"mark":{"type":"point","filled":false,"color":"#ffffff","opacity":1,"strokeWidth":1.5,"size":484},"encoding":{"x":{"field":"i","type":"nominal","axis":null,"scale":{"range":[112,112]}},"y":{"field":"i","type":"nominal","axis":null,"scale":{"domain":["OVERVIEW","THEMES","PLUGINS","BACKUPS","TRANSFER","MONITOR","PERFORMANCE","SEARCH CONSOLE","ANALYTICS","USERS","DOMAIN","RECOVERY MODE"],"range":[160,866]}},"shape":{"field":"i","type":"nominal","legend":null,"scale":{"domain":["OVERVIEW","THEMES","BACKUPS","TRANSFER","MONITOR","ANALYTICS","USERS","DOMAIN","RECOVERY MODE"],"range":["M -0.95 -0.75 H 0.95 V 0.2 H 0.1 M -0.95 -0.75 V 0.2 H -0.1 M -0.55 -0.3 H -0.45 M -0.15 -0.3 H -0.05 M 0.25 -0.3 H 0.35 M 0.2 0.35 H 0.9 V 0.9 H 0.2 Z","M -0.85 -0.85 H 0.85 M -0.85 -0.45 H -0.05 V 0.4 H -0.85 Z M 0.3 -0.35 H 0.85 M 0.3 0.3 H 0.85 M -0.85 0.8 H 0.85","M -0.85 -0.85 H 0.85 V 0.6 H -0.85 Z M -0.55 -0.55 H 0.55 V 0.3 H -0.55 Z M -0.45 0.6 V 0.9 M 0.45 0.6 V 0.9 M -0.3 -0.1 A 0.2 0.2 0 1 0 0.1 -0.1 A 0.2 0.2 0 1 0 -0.3 -0.1 Z","M -0.85 -0.8 H 0.85 V 0.8 H -0.85 Z M -0.85 0 H 0.85 M -0.55 -0.4 H -0.3 M 0 -0.4 H 0.5 M -0.55 0.4 H -0.3 M 0.2 0.8 L 0.55 0.25 L 0.9 0.8","M 0 0.9 L -0.9 0 A 0.5 0.5 0 0 1 -0.1 -0.65 L 0 -0.55 L 0.1 -0.65 A 0.5 0.5 0 0 1 0.9 0 Z M 0.1 -0.3 L -0.3 0.1 H 0.05 L -0.1 0.4 L 0.3 0 H -0.05 Z","M -0.65 0.85 V 0.4 M 0 0.85 V -0.1 M 0.65 0.85 V -0.85","M -0.6 -0.45 A 0.4 0.4 0 1 0 0.2 -0.45 A 0.4 0.4 0 1 0 -0.6 -0.45 Z M -0.95 0.85 V 0.6 A 0.6 0.6 0 0 1 -0.35 0.1 H 0 M 0.05 0.85 L 0.1 0.5 L 0.65 -0.05 L 0.95 0.2 L 0.4 0.8 Z","M -0.95 0 A 0.95 0.95 0 1 0 0.95 0 A 0.95 0.95 0 1 0 -0.95 0 Z M -0.95 0 H 0.95 M 0 -0.95 A 0.45 0.95 0 0 1 0 0.95 A 0.45 0.95 0 0 1 0 -0.95 Z M -0.8 -0.5 H 0.8 M -0.8 0.5 H 0.8","M 0 -0.95 L 0.7 -0.65 V 0.1 Q 0.7 0.65 0 0.95 Q -0.7 0.65 -0.7 0.1 V -0.65 Z M -0.25 0.1 A 0.25 0.25 0 1 0 0.25 0.1 A 0.25 0.25 0 1 0 -0.25 0.1 Z"]}}}},
{"data":{"values":[{"i":"PLUGINS"},{"i":"PERFORMANCE"}]},"mark":{"type":"point","filled":false,"color":"#ffffff","opacity":1,"strokeWidth":1.5,"size":484},"encoding":{"x":{"field":"i","type":"nominal","axis":null,"scale":{"range":[114,114]}},"y":{"field":"i","type":"nominal","axis":null,"scale":{"domain":["OVERVIEW","THEMES","PLUGINS","BACKUPS","TRANSFER","MONITOR","PERFORMANCE","SEARCH CONSOLE","ANALYTICS","USERS","DOMAIN","RECOVERY MODE"],"range":[160,866]}},"shape":{"field":"i","type":"nominal","legend":null,"scale":{"domain":["PLUGINS","PERFORMANCE"],"range":["M -0.65 -0.85 H 0.65 A 0.37 0.37 0 0 1 0.65 -0.1 H -0.65 A 0.37 0.37 0 0 1 -0.65 -0.85 Z M -0.65 0.1 H 0.65 A 0.37 0.37 0 0 1 0.65 0.85 H -0.65 A 0.37 0.37 0 0 1 -0.65 0.1 Z","M 0.3 -1 L -0.25 0.05 H 0.2 L 0 1 L 0.9 -0.2 H 0.4 L 0.8 -0.8 Z M -0.95 -0.4 H -0.4 M -1 0 H -0.5 M -0.9 0.4 H -0.4"]}}}},
{"data":{"values":[{"i":"SEARCH CONSOLE"}]},"mark":{"type":"point","filled":false,"color":"#f5c22b","opacity":1,"strokeWidth":1.5,"size":484,"shape":"M -0.9 -0.15 A 0.75 0.75 0 1 0 0.6 -0.15 A 0.75 0.75 0 1 0 -0.9 -0.15 Z M 0.45 0.45 L 0.95 0.95 M -0.5 0.05 L -0.2 -0.2 L -0.05 0 L 0.25 -0.35"},"encoding":{"x":{"field":"i","type":"nominal","axis":null,"scale":{"range":[112,112]}},"y":{"field":"i","type":"nominal","axis":null,"scale":{"range":[608,608]}}}},

{"data":{"values":[{"t":"OVERVIEW"},{"t":"THEMES"},{"t":"BACKUPS"},{"t":"TRANSFER"},{"t":"MONITOR"},{"t":"ANALYTICS"},{"t":"USERS"},{"t":"DOMAIN"},{"t":"RECOVERY MODE"}]},"mark":{"type":"text","font":"Roboto","fontWeight":"bold","fontSize":12,"color":"#f2f4f7"},"encoding":{"text":{"field":"t","type":"nominal"},"x":{"field":"t","type":"nominal","axis":null,"scale":{"range":[142,142]}},"y":{"field":"t","type":"nominal","axis":null,"scale":{"domain":["OVERVIEW","THEMES","PLUGINS","BACKUPS","TRANSFER","MONITOR","PERFORMANCE","SEARCH CONSOLE","ANALYTICS","USERS","DOMAIN","RECOVERY MODE"],"range":[158.7,864.7]}}}},
{"data":{"values":[{"t":"PLUGINS"},{"t":"PERFORMANCE"}]},"mark":{"type":"text","font":"Roboto","fontWeight":"bold","fontSize":12,"color":"#f2f4f7"},"encoding":{"text":{"field":"t","type":"nominal"},"x":{"field":"t","type":"nominal","axis":null,"scale":{"range":[146,146]}},"y":{"field":"t","type":"nominal","axis":null,"scale":{"domain":["OVERVIEW","THEMES","PLUGINS","BACKUPS","TRANSFER","MONITOR","PERFORMANCE","SEARCH CONSOLE","ANALYTICS","USERS","DOMAIN","RECOVERY MODE"],"range":[158.7,864.7]}}}},
{"data":{"values":[{"t":"SEARCH CONSOLE"}]},"mark":{"type":"text","font":"Roboto","fontWeight":"bold","fontSize":12,"color":"#f5c22b"},"encoding":{"text":{"field":"t","type":"nominal"},"x":{"field":"t","type":"nominal","axis":null,"scale":{"range":[142,142]}},"y":{"field":"t","type":"nominal","axis":null,"scale":{"range":[607.7,607.7]}}}},

{"data":{"values":[{"t":"SITESKITE"}]},"mark":{"type":"text","fontSize":17,"fontWeight":700,"fontStyle":"italic","color":"#ffffff"},"encoding":{"text":{"field":"t","type":"nominal"},"x":{"field":"t","type":"nominal","axis":null,"scale":{"range":[51,51]}},"y":{"field":"t","type":"nominal","axis":null,"scale":{"range":[31.5,31.5]}}}},
{"data":{"values":[{"t":"Build & Manage"}]},"mark":{"type":"text","fontSize":12,"fontWeight":500,"color":"#fcc52d"},"encoding":{"text":{"field":"t","type":"nominal"},"x":{"field":"t","type":"nominal","axis":null,"scale":{"range":[1400.5,1400.5]}},"y":{"field":"t","type":"nominal","axis":null,"scale":{"range":[32.5,32.5]}}}},
{"data":{"values":[{"t":"99+"}]},"mark":{"type":"text","fontSize":9,"fontWeight":700,"align":"center","color":"#1a2030"},"encoding":{"text":{"field":"t","type":"nominal"},"x":{"field":"t","type":"nominal","axis":null,"scale":{"range":[1689,1689]}},"y":{"field":"t","type":"nominal","axis":null,"scale":{"range":[22,22]}}}},
{"data":{"values":[{"t":"MA"}]},"mark":{"type":"text","fontSize":14,"fontWeight":700,"align":"center","color":"#1a2030"},"encoding":{"text":{"field":"t","type":"nominal"},"x":{"field":"t","type":"nominal","axis":null,"scale":{"range":[1743.5,1743.5]}},"y":{"field":"t","type":"nominal","axis":null,"scale":{"range":[33.5,33.5]}}}},
{"data":{"values":[{"t":"Muhammad"}]},"mark":{"type":"text","fontSize":13.5,"fontWeight":600,"color":"#ffffff"},"encoding":{"text":{"field":"t","type":"nominal"},"x":{"field":"t","type":"nominal","axis":null,"scale":{"range":[1768.7,1768.7]}},"y":{"field":"t","type":"nominal","axis":null,"scale":{"range":[25.5,25.5]}}}},
{"data":{"values":[{"t":"AS - Tier 4 Plan"}]},"mark":{"type":"text","fontSize":11,"color":"#8791a5"},"encoding":{"text":{"field":"t","type":"nominal"},"x":{"field":"t","type":"nominal","axis":null,"scale":{"range":[1768.7,1768.7]}},"y":{"field":"t","type":"nominal","axis":null,"scale":{"range":[40,40]}}}},
{"data":{"values":[{"t":"techvento.com"}]},"mark":{"type":"text","fontSize":14.2,"color":"#f3bb1f"},"encoding":{"text":{"field":"t","type":"nominal"},"x":{"field":"t","type":"nominal","axis":null,"scale":{"range":[86,86]}},"y":{"field":"t","type":"nominal","axis":null,"scale":{"range":[98.5,98.5]}}}},
{"data":{"values":[{"t":"Production"}]},"mark":{"type":"text","fontSize":12,"fontWeight":600,"color":"#8a7430"},"encoding":{"text":{"field":"t","type":"nominal"},"x":{"field":"t","type":"nominal","axis":null,"scale":{"range":[797,797]}},"y":{"field":"t","type":"nominal","axis":null,"scale":{"range":[97.5,97.5]}}}},
{"data":{"values":[{"t":"+ Add Staging"}]},"mark":{"type":"text","fontSize":12,"fontWeight":600,"color":"#f2f4f7"},"encoding":{"text":{"field":"t","type":"nominal"},"x":{"field":"t","type":"nominal","axis":null,"scale":{"range":[931.5,931.5]}},"y":{"field":"t","type":"nominal","axis":null,"scale":{"range":[97.5,97.5]}}}},
{"data":{"values":[{"t":"WP Admin"}]},"mark":{"type":"text","fontSize":12,"color":"#d8a929"},"encoding":{"text":{"field":"t","type":"nominal"},"x":{"field":"t","type":"nominal","axis":null,"scale":{"range":[1652,1652]}},"y":{"field":"t","type":"nominal","axis":null,"scale":{"range":[97.5,97.5]}}}},
{"data":{"values":[{"t":"Generate Report"}]},"mark":{"type":"text","fontSize":12,"fontWeight":600,"color":"#f2f4f7"},"encoding":{"text":{"field":"t","type":"nominal"},"x":{"field":"t","type":"nominal","axis":null,"scale":{"range":[1755,1755]}},"y":{"field":"t","type":"nominal","axis":null,"scale":{"range":[97.5,97.5]}}}},
{"data":{"values":[{"t":"W"}]},"mark":{"type":"text","fontSize":9,"fontWeight":700,"align":"center","color":"#0f1521"},"encoding":{"text":{"field":"t","type":"nominal"},"x":{"field":"t","type":"nominal","axis":null,"scale":{"range":[1639,1639]}},"y":{"field":"t","type":"nominal","axis":null,"scale":{"range":[97.5,97.5]}}}},
{"data":{"values":[{"t":"0"}]},"mark":{"type":"text","fontSize":10.5,"fontWeight":700,"color":"#f5c22b"},"encoding":{"text":{"field":"t","type":"nominal"},"x":{"field":"t","type":"nominal","axis":null,"scale":{"range":[214,214]}},"y":{"field":"t","type":"nominal","axis":null,"scale":{"range":[224.5,224.5]}}}},
{"data":{"values":[{"t":"/1 Update"}]},"mark":{"type":"text","fontSize":10.5,"fontWeight":500,"color":"#3c5a94"},"encoding":{"text":{"field":"t","type":"nominal"},"x":{"field":"t","type":"nominal","axis":null,"scale":{"range":[220.7,220.7]}},"y":{"field":"t","type":"nominal","axis":null,"scale":{"range":[224.5,224.5]}}}},
{"data":{"values":[{"t":"2"}]},"mark":{"type":"text","fontSize":10.5,"fontWeight":700,"color":"#f5c22b"},"encoding":{"text":{"field":"t","type":"nominal"},"x":{"field":"t","type":"nominal","axis":null,"scale":{"range":[220.3,220.3]}},"y":{"field":"t","type":"nominal","axis":null,"scale":{"range":[288.5,288.5]}}}},
{"data":{"values":[{"t":"/29 Updates"}]},"mark":{"type":"text","fontSize":10.5,"fontWeight":500,"color":"#3c5a94"},"encoding":{"text":{"field":"t","type":"nominal"},"x":{"field":"t","type":"nominal","axis":null,"scale":{"range":[226.7,226.7]}},"y":{"field":"t","type":"nominal","axis":null,"scale":{"range":[288.5,288.5]}}}},
{"data":{"values":[{"t":"0"}]},"mark":{"type":"text","fontSize":10.5,"fontWeight":600,"align":"center","color":"#3c5a94"},"encoding":{"text":{"field":"t","type":"nominal"},"x":{"field":"t","type":"nominal","axis":null,"scale":{"range":[208,208]}},"y":{"field":"t","type":"nominal","axis":null,"scale":{"range":[738.5,738.5]}}}},

{"data":{"values":[{"t":"SEARCH CONSOLE"}]},"mark":{"type":"text","font":"Roboto","fontWeight":"bold","fontSize":16,"color":"#ffffff"},"encoding":{"text":{"field":"t","type":"nominal"},"x":{"field":"t","type":"nominal","axis":null,"scale":{"range":[460.5,460.5]}},"y":{"field":"t","type":"nominal","axis":null,"scale":{"range":[190,190]}}}},
{"data":{"values":[{"t":"How people find this site on Google Search."}]},"mark":{"type":"text","fontSize":14,"color":"#d5dae5"},"encoding":{"text":{"field":"t","type":"nominal"},"x":{"field":"t","type":"nominal","axis":null,"scale":{"range":[460.5,460.5]}},"y":{"field":"t","type":"nominal","axis":null,"scale":{"range":[217.5,217.5]}}}},
{"data":{"values":[{"t":"siteskite.com · m.abdullah@siteskite.com"}]},"mark":{"type":"text","fontSize":13,"color":"#8aa0c8"},"encoding":{"text":{"field":"t","type":"nominal"},"x":{"field":"t","type":"nominal","axis":null,"scale":{"range":[754.5,754.5]}},"y":{"field":"t","type":"nominal","axis":null,"scale":{"range":[217.5,217.5]}}}},
{"data":{"values":[{"t":"7 days"}]},"mark":{"type":"text","fontSize":13,"fontWeight":500,"color":"#6f8dbc"},"encoding":{"text":{"field":"t","type":"nominal"},"x":{"field":"t","type":"nominal","axis":null,"scale":{"range":[1490.2,1490.2]}},"y":{"field":"t","type":"nominal","axis":null,"scale":{"range":[201.5,201.5]}}}},
{"data":{"values":[{"t":"28 days"}]},"mark":{"type":"text","fontSize":13,"fontWeight":600,"color":"#f7c531"},"encoding":{"text":{"field":"t","type":"nominal"},"x":{"field":"t","type":"nominal","axis":null,"scale":{"range":[1555,1555]}},"y":{"field":"t","type":"nominal","axis":null,"scale":{"range":[201.5,201.5]}}}},
{"data":{"values":[{"t":"3 months"}]},"mark":{"type":"text","fontSize":13,"fontWeight":500,"color":"#6f8dbc"},"encoding":{"text":{"field":"t","type":"nominal"},"x":{"field":"t","type":"nominal","axis":null,"scale":{"range":[1629.3,1629.3]}},"y":{"field":"t","type":"nominal","axis":null,"scale":{"range":[201.5,201.5]}}}},
{"data":{"values":[{"t":"Refresh"}]},"mark":{"type":"text","fontSize":12,"fontWeight":600,"color":"#ffffff"},"encoding":{"text":{"field":"t","type":"nominal"},"x":{"field":"t","type":"nominal","axis":null,"scale":{"range":[1716.3,1716.3]}},"y":{"field":"t","type":"nominal","axis":null,"scale":{"range":[199.5,199.5]}}}},

{"data":{"values":[{"t":"Total clicks"},{"t":"Total impressions"},{"t":"Average CTR"},{"t":"Average position"}]},"mark":{"type":"text","fontSize":13,"fontWeight":500,"color":"#8a9cc0"},"encoding":{"text":{"field":"t","type":"nominal"},"x":{"field":"t","type":"nominal","axis":null,"sort":null,"scale":{"range":[480,1488.7]}},"y":{"field":"t","type":"nominal","axis":null,"scale":{"range":[295.5,295.5]}}}},
{"data":{"values":[{"t":"62"},{"t":"6,277"},{"t":"0.99%"},{"t":"22.1"}]},"mark":{"type":"text","fontSize":30,"fontWeight":600,"color":"#ffffff"},"encoding":{"text":{"field":"t","type":"nominal"},"x":{"field":"t","type":"nominal","axis":null,"sort":null,"scale":{"range":[480,1488.7]}},"y":{"field":"t","type":"nominal","axis":null,"scale":{"range":[340.5,340.5]}}}},
{"data":{"values":[{"t":"%"}]},"mark":{"type":"text","fontSize":15,"fontWeight":500,"align":"center","color":"#10c070"},"encoding":{"text":{"field":"t","type":"nominal"},"x":{"field":"t","type":"nominal","axis":null,"scale":{"range":[1421,1421]}},"y":{"field":"t","type":"nominal","axis":null,"scale":{"range":[295,295]}}}},
{"data":{"values":[{"t":"▼ 50%"}]},"mark":{"type":"text","fontSize":12,"fontWeight":700,"color":"#f0455a"},"encoding":{"text":{"field":"t","type":"nominal"},"x":{"field":"t","type":"nominal","axis":null,"scale":{"range":[488,488]}},"y":{"field":"t","type":"nominal","axis":null,"scale":{"range":[376.5,376.5]}}}},
{"data":{"values":[{"t":"▼ 24.8%"}]},"mark":{"type":"text","fontSize":12,"fontWeight":700,"color":"#f0455a"},"encoding":{"text":{"field":"t","type":"nominal"},"x":{"field":"t","type":"nominal","axis":null,"scale":{"range":[824,824]}},"y":{"field":"t","type":"nominal","axis":null,"scale":{"range":[376.5,376.5]}}}},
{"data":{"values":[{"t":"▼ 0.5 pt"}]},"mark":{"type":"text","fontSize":12,"fontWeight":700,"color":"#f0455a"},"encoding":{"text":{"field":"t","type":"nominal"},"x":{"field":"t","type":"nominal","axis":null,"scale":{"range":[1160,1160]}},"y":{"field":"t","type":"nominal","axis":null,"scale":{"range":[376.5,376.5]}}}},
{"data":{"values":[{"t":"▲ 2.5"}]},"mark":{"type":"text","fontSize":12,"fontWeight":700,"color":"#10c070"},"encoding":{"text":{"field":"t","type":"nominal"},"x":{"field":"t","type":"nominal","axis":null,"scale":{"range":[1496,1496]}},"y":{"field":"t","type":"nominal","axis":null,"scale":{"range":[376.5,376.5]}}}},
{"data":{"values":[{"t":"vs previous period"}]},"mark":{"type":"text","fontSize":12,"color":"#7486a8"},"encoding":{"text":{"field":"t","type":"nominal"},"x":{"field":"t","type":"nominal","axis":null,"scale":{"range":[545,545]}},"y":{"field":"t","type":"nominal","axis":null,"scale":{"range":[376,376]}}}},
{"data":{"values":[{"t":"vs previous period"}]},"mark":{"type":"text","fontSize":12,"color":"#7486a8"},"encoding":{"text":{"field":"t","type":"nominal"},"x":{"field":"t","type":"nominal","axis":null,"scale":{"range":[892,892]}},"y":{"field":"t","type":"nominal","axis":null,"scale":{"range":[376,376]}}}},
{"data":{"values":[{"t":"vs previous period"}]},"mark":{"type":"text","fontSize":12,"color":"#7486a8"},"encoding":{"text":{"field":"t","type":"nominal"},"x":{"field":"t","type":"nominal","axis":null,"scale":{"range":[1223.6,1223.6]}},"y":{"field":"t","type":"nominal","axis":null,"scale":{"range":[376,376]}}}},
{"data":{"values":[{"t":"vs previous period"}]},"mark":{"type":"text","fontSize":12,"color":"#7486a8"},"encoding":{"text":{"field":"t","type":"nominal"},"x":{"field":"t","type":"nominal","axis":null,"scale":{"range":[1545.4,1545.4]}},"y":{"field":"t","type":"nominal","axis":null,"scale":{"range":[376,376]}}}},
{"data":{"values":[{"t":"Lower is better"}]},"mark":{"type":"text","fontSize":12,"color":"#7486a8"},"encoding":{"text":{"field":"t","type":"nominal"},"x":{"field":"t","type":"nominal","axis":null,"scale":{"range":[1488.7,1488.7]}},"y":{"field":"t","type":"nominal","axis":null,"scale":{"range":[402,402]}}}},

{"data":{"values":[{"t":"Search performance"}]},"mark":{"type":"text","fontSize":16.5,"fontWeight":600,"color":"#ffffff"},"encoding":{"text":{"field":"t","type":"nominal"},"x":{"field":"t","type":"nominal","axis":null,"scale":{"range":[482,482]}},"y":{"field":"t","type":"nominal","axis":null,"scale":{"range":[516.3,516.3]}}}},
{"data":{"values":[{"t":"2026-08-30 – 2026-09-26. Search Console data is delayed by about two days."}]},"mark":{"type":"text","fontSize":13,"color":"#7d90b3"},"encoding":{"text":{"field":"t","type":"nominal"},"x":{"field":"t","type":"nominal","axis":null,"scale":{"range":[482,482]}},"y":{"field":"t","type":"nominal","axis":null,"scale":{"range":[541,541]}}}},
{"data":{"values":[{"t":"SEO quick wins"}]},"mark":{"type":"text","fontSize":16.5,"fontWeight":600,"color":"#ffffff"},"encoding":{"text":{"field":"t","type":"nominal"},"x":{"field":"t","type":"nominal","axis":null,"scale":{"range":[482,482]}},"y":{"field":"t","type":"nominal","axis":null,"scale":{"range":[926,926]}}}},
{"data":{"values":[{"t":"Searches where this site already ranks on page 1–2 with plenty of impressions. Small changes here usually bring the"},{"t":"fastest traffic gains."}]},"mark":{"type":"text","fontSize":13,"color":"#7d90b3"},"encoding":{"text":{"field":"t","type":"nominal"},"x":{"field":"t","type":"nominal","axis":null,"scale":{"range":[482,482]}},"y":{"field":"t","type":"nominal","axis":null,"sort":null,"scale":{"range":[951.7,971]}}}}
]}
